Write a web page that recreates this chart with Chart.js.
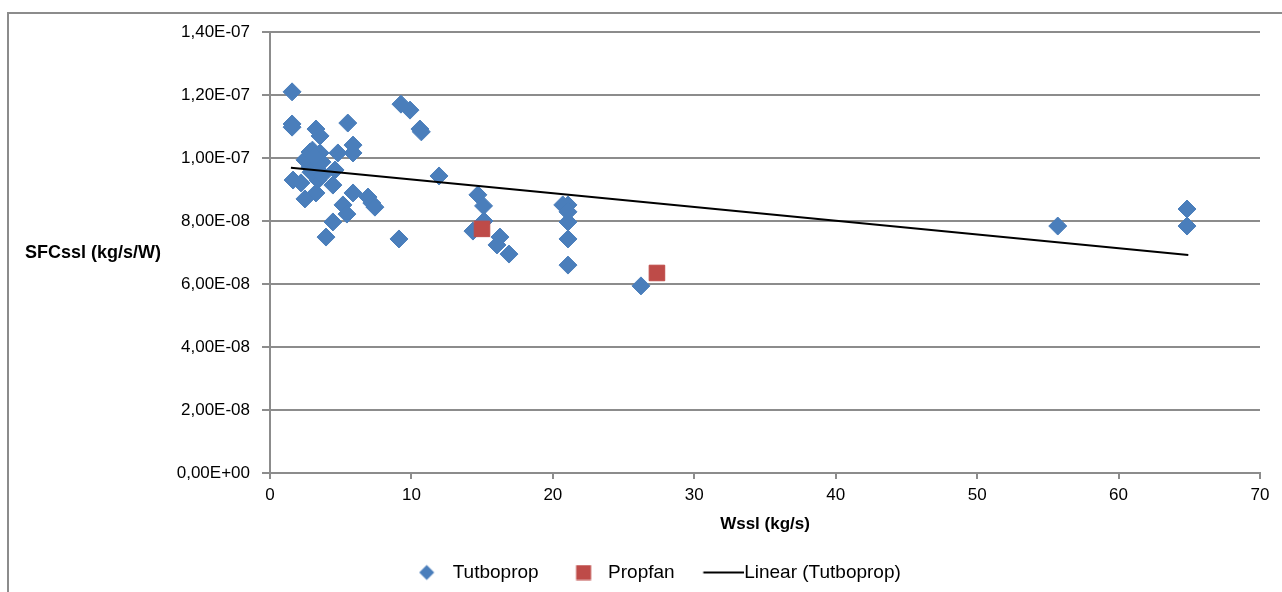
<!DOCTYPE html>
<html>
<head>
<meta charset="utf-8">
<script src="https://cdn.jsdelivr.net/npm/chart.js@4"></script>
<style>
  html, body { margin: 0; padding: 0; overflow: hidden; background: #fff; }
  #wrap { position: relative; width: 1282px; height: 592px; }
  #c { position: absolute; left: 0; top: 0; }
  #frame { position: absolute; left: 7px; top: 12px; width: 1320px; height: 640px;
           border: 2px solid #8c8c8c; pointer-events: none; }
</style>
</head>
<body>
<div id="wrap">
  <canvas id="c" width="1282" height="592"></canvas>
  <div id="frame"></div>
</div>
<script>
// ---- data ----
const seriesNames = ['Tutboprop', 'Propfan', 'Linear (Tutboprop)'];

const turboX = [1.56, 1.56, 1.56, 3.25, 3.54, 5.50, 9.26, 9.90, 10.60, 10.70,
  5.87, 5.87, 4.80, 3.54, 2.83, 2.47, 3.18, 3.68, 2.83, 3.40,
  4.60, 1.63, 2.19, 3.40, 3.25, 4.45, 2.47, 5.87, 11.95, 6.93,
  7.20, 7.42, 5.16, 5.44, 4.45, 3.96, 9.12, 14.70, 15.10, 15.13,
  14.35, 16.26, 16.05, 16.90, 20.70, 21.07, 21.07, 21.07, 21.07, 21.07,
  26.23, 55.70, 64.84, 64.84, 3.00, 2.60, 3.40, 2.90, 3.70, 3.10];
const turboY = [12.10e-8, 11.08e-8, 10.98e-8, 10.92e-8, 10.70e-8, 11.11e-8, 11.71e-8, 11.52e-8, 10.92e-8, 10.83e-8,
  10.41e-8, 10.16e-8, 10.16e-8, 10.16e-8, 10.19e-8, 9.94e-8, 9.94e-8, 9.87e-8, 9.71e-8, 9.62e-8,
  9.62e-8, 9.30e-8, 9.21e-8, 9.30e-8, 8.89e-8, 9.14e-8, 8.70e-8, 8.89e-8, 9.43e-8, 8.76e-8,
  8.57e-8, 8.44e-8, 8.51e-8, 8.22e-8, 7.97e-8, 7.49e-8, 7.43e-8, 8.83e-8, 8.48e-8, 8.00e-8,
  7.68e-8, 7.49e-8, 7.24e-8, 6.95e-8, 8.51e-8, 8.51e-8, 8.29e-8, 7.97e-8, 7.43e-8, 6.60e-8,
  5.94e-8, 7.84e-8, 8.38e-8, 7.84e-8, 10.25e-8, 10.00e-8, 9.80e-8, 9.55e-8, 9.45e-8, 10.05e-8];

const propX = [14.99, 27.36];
const propY = [7.75e-8, 6.35e-8];

const trendX = [1.48, 64.93];
const trendY = [9.69e-8, 6.92e-8];

const xTicks = [0, 10, 20, 30, 40, 50, 60, 70];
const yTicks = [0, 2e-8, 4e-8, 6e-8, 8e-8, 10e-8, 12e-8, 14e-8];

const xTitle = 'Wssl (kg/s)';
const yTitle = 'SFCssl (kg/s/W)';

// ---- helpers ----
const pts = (xs, ys) => xs.map((x, i) => ({ x: x, y: ys[i] }));

function fmtExp(v) {
  if (Math.abs(v) < 1e-20) return '0,00E+00';
  const parts = v.toExponential(2).split('e');
  const n = parseInt(parts[1], 10);
  return parts[0].replace('.', ',') + 'E' + (n < 0 ? '-' : '+') + String(Math.abs(n)).padStart(2, '0');
}

const BLUE = '#4a7ebb';
const RED = '#be4b48';
const GRID = '#8c8c8c';

function makeCanvas(w, h, draw) {
  const c = document.createElement('canvas');
  c.width = w; c.height = h;
  draw(c.getContext('2d'));
  return c;
}
const legendImgs = [
  makeCanvas(48, 18, g => {
    g.fillStyle = BLUE; g.beginPath();
    g.moveTo(27.5, 1.5); g.lineTo(35, 9); g.lineTo(27.5, 16.5); g.lineTo(20, 9); g.closePath(); g.fill();
  }),
  makeCanvas(50, 16, g => { g.fillStyle = RED; g.fillRect(22.5, 0.5, 15, 15); }),
  makeCanvas(58, 4, g => { g.fillStyle = '#000'; g.fillRect(17.6, 1, 40.4, 2); })
];

const yTitlePlugin = {
  id: 'yTitleHoriz',
  afterLayout(chart) {
    if (chart.legend) { chart.legend.left += 22; chart.legend.right += 22; }
  },
  afterDraw(chart) {
    const g = chart.ctx;
    g.save();
    g.font = 'bold 18px "Liberation Sans", Arial, sans-serif';
    g.fillStyle = '#000';
    g.textAlign = 'center';
    g.textBaseline = 'middle';
    g.fillText(yTitle, 93, 253);
    g.restore();
  }
};

Chart.defaults.font.family = '"Liberation Sans", Arial, sans-serif';
Chart.defaults.color = '#000';

new Chart(document.getElementById('c'), {
  type: 'scatter',
  data: {
    datasets: [
      {
        label: seriesNames[0], data: pts(turboX, turboY),
        pointStyle: 'rectRot', pointRadius: 9, pointHoverRadius: 9,
        backgroundColor: BLUE, borderColor: BLUE, borderWidth: 1, order: 2
      },
      {
        label: seriesNames[1], data: pts(propX, propY),
        pointStyle: 'rect', pointRadius: 11, pointHoverRadius: 11,
        backgroundColor: RED, borderColor: RED, borderWidth: 1, order: 1
      },
      {
        label: seriesNames[2], data: pts(trendX, trendY), type: 'line',
        showLine: true, borderColor: '#000', borderWidth: 2, pointRadius: 0,
        fill: false, order: 0
      }
    ]
  },
  options: {
    responsive: false,
    animation: false,
    events: [],
    layout: { padding: { left: 0, right: 22, top: 32, bottom: 0 } },
    scales: {
      x: {
        type: 'linear', min: 0, max: 70,
        afterBuildTicks: s => { s.ticks = xTicks.map(v => ({ value: v })); },
        afterFit: s => { s.height = 70; },
        ticks: { font: { size: 17 }, color: '#000', padding: 6, maxRotation: 0 },
        grid: { drawOnChartArea: false, drawTicks: true, tickLength: 6, color: GRID, lineWidth: 2 },
        border: { display: true, color: GRID, width: 2 },
        title: { display: true, text: xTitle, color: '#000',
                 font: { size: 17, weight: 'bold' }, padding: { top: 4, bottom: 8 } }
      },
      y: {
        type: 'linear', min: 0, max: 1.4e-7,
        afterBuildTicks: s => { s.ticks = yTicks.map(v => ({ value: v })); },
        afterFit: s => { s.width = 270; },
        ticks: { callback: v => fmtExp(v), font: { size: 17 }, color: '#000', padding: 12 },
        grid: { color: GRID, lineWidth: 2, tickLength: 8 },
        border: { display: true, color: GRID, width: 2 }
      }
    },
    plugins: {
      tooltip: { enabled: false },
      legend: {
        position: 'bottom',
        labels: {
          usePointStyle: true,
          pointStyleWidth: 40,
          padding: 20,
          font: { size: 19 },
          color: '#000',
          sort: (a, b) => a.datasetIndex - b.datasetIndex,
          generateLabels(chart) {
            const items = Chart.defaults.plugins.legend.labels.generateLabels(chart);
            items.forEach(it => { it.pointStyle = legendImgs[it.datasetIndex]; });
            return items;
          }
        }
      }
    }
  },
  plugins: [yTitlePlugin]
});
</script>
</body>
</html>
